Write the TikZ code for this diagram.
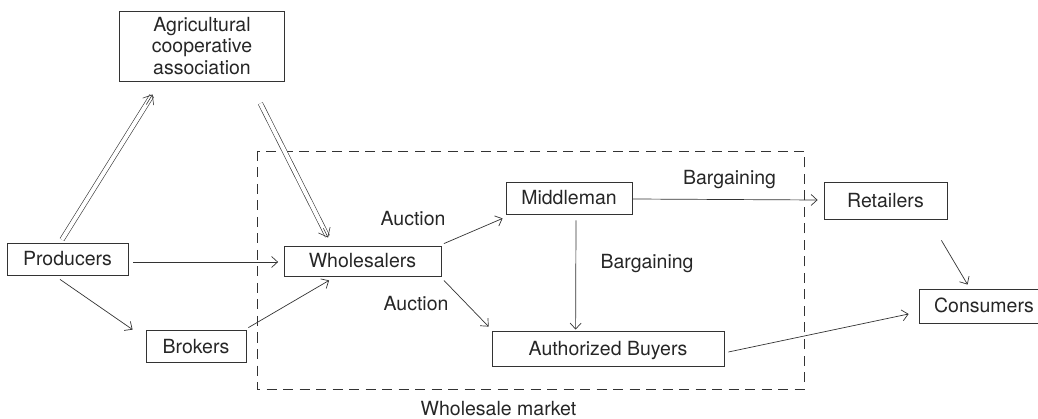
\documentclass[tikz,border=0pt]{standalone}
\usepackage{fontspec}
\setmainfont{TeX Gyre Heros}
\usetikzlibrary{arrows.meta,calc}
\begin{document}
\begin{tikzpicture}[x=1pt,y=-1pt,
  every node/.style={font=\fontsize{19.5}{21.7}\selectfont, text=black!85},
  box/.style={draw=black!80, line width=0.8pt, inner sep=0pt, text height=14pt, text depth=0pt},
  lbl/.style={inner sep=0pt, text height=14pt, text depth=0pt},
  arr/.style={draw=black!80, line width=0.7pt, -{Straight Barb[length=6pt,width=11pt]}},
  dbl/.style={draw=black!80, line width=0.6pt, double distance=4pt},
  dbltip/.style={draw=black!80, line width=0.6pt, -{Straight Barb[length=8pt,width=13pt]}},
  market/.style={draw=black!80, line width=0.7pt, dash pattern=on 10pt off 6.5pt}
]
\useasboundingbox (0,0) rectangle (1038,419);

% wholesale market frame
\draw[market] (257,151) rectangle (804,389);
\node[lbl] (mkt) at (498.5,408) {Wholesale market};

% boxes
\node[draw=black!80, line width=0.8pt, inner sep=0pt, minimum width=165pt, minimum height=70pt, align=center] (agri) at (202,46) {Agricultural\\cooperative\\association};
\node[box, minimum width=121pt, minimum height=32pt] (prod) at (67.5,259) {Producers};
\node[box, minimum width=100pt, minimum height=32pt] (brok) at (196,346) {Brokers};
\node[box, minimum width=157pt, minimum height=30pt] (whole) at (362.5,261) {Wholesalers};
\node[box, minimum width=126pt, minimum height=32pt] (middle) at (569,198) {Middleman};
\node[box, minimum width=232pt, minimum height=35pt] (auth) at (608,348.5) {Authorized Buyers};
\node[box, minimum width=123pt, minimum height=37pt] (retail) at (885.5,200.5) {Retailers};
\node[box, minimum width=130pt, minimum height=34pt] (cons) at (984,306) {Consumers};

% labels
\node[lbl] (auc1) at (413,218.5) {Auction};
\node[lbl] (auc2) at (416,304) {Auction};
\node[lbl] (barg1) at (729.5,177.5) {Bargaining};
\node[lbl] (barg2) at (647,262) {Bargaining};

% double arrows
\coordinate (d1s) at ([xshift=-5.5pt,yshift=3pt]prod.north);
\coordinate (d1e) at ([xshift=33.5pt,yshift=-13pt]agri.south west);
\draw[dbl, shorten >=1.5pt] (d1s) -- (d1e);
\draw[dbltip] ($(d1s)!0.93!(d1e)$) -- (d1e);

\coordinate (d2s) at ([xshift=-24.5pt,yshift=-22pt]agri.south east);
\coordinate (d2e) at ([xshift=44.5pt,yshift=8pt]whole.north west);
\draw[dbl, shorten >=1.5pt] (d2s) -- (d2e);
\draw[dbltip] ($(d2s)!0.93!(d2e)$) -- (d2e);

% single arrows
\draw[arr] ([xshift=5pt,yshift=-3pt]prod.east) -- ([xshift=-5.5pt,yshift=-1pt]whole.west);
\draw[arr] ([xshift=-7.5pt,yshift=-4pt]prod.south) -- ([xshift=-13pt]brok.north west);
\draw[arr] ([xshift=2pt,yshift=2pt]brok.north east) -- ([xshift=45.5pt,yshift=-4pt]whole.south west);
\draw[arr] ([xshift=2.5pt,yshift=2pt]whole.north east) -- ([xshift=-3pt,yshift=-4pt]middle.south west);
\draw[arr] ([xshift=2.5pt,yshift=-4pt]whole.south east) -- ([xshift=-3pt,yshift=4pt]auth.north west);
\draw[arr] ([xshift=7pt,yshift=-6pt]middle.south) -- ([xshift=84pt,yshift=1pt]auth.north west);
\draw[arr] ([yshift=-1pt]middle.east) -- ([xshift=-6pt,yshift=0.5pt]retail.west);
\draw[arr] ([xshift=-6pt,yshift=-21pt]retail.south east) -- ([xshift=49pt,yshift=4pt]cons.north west);
\draw[arr] ([xshift=4pt,yshift=-3.5pt]auth.east) -- ([xshift=-10pt,yshift=-8pt]cons.west);
\end{tikzpicture}
\end{document}
